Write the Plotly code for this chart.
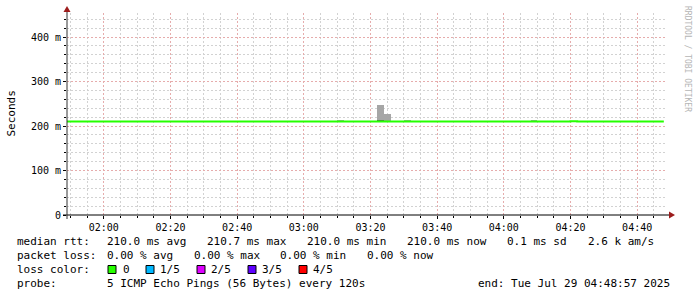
import plotly.graph_objects as go

# ---------------- data ----------------
DAY = "2025-07-29 "
range_start = "01:48:57"
range_end = "04:48:57"

# median RTT (ms), step series: each value holds until the next time
median_times = ["01:48:00", "04:20:00", "04:22:00", "04:48:00"]
median_ms = [210.0, 210.7, 210.0, 210.0]

# smoke (spread of the pings) per 2-minute step, centre times
smoke_times = ["03:11:00", "03:23:00", "03:25:00", "03:31:00", "04:09:00"]
smoke_low = [210, 210, 210, 210, 210]
smoke_high = [213.5, 247, 227, 213.5, 213.5]

# denser smoke band next to the median
dense_times = ["03:23:00"]
dense_low = [210]
dense_high = [213.5]

y_tickvals = [0, 100, 200, 300, 400]
y_ticktext = ["0", "100 m", "200 m", "300 m", "400 m"]
x_tickvals = ["02:00", "02:20", "02:40", "03:00", "03:20", "03:40", "04:00", "04:20", "04:40"]

rtt_row = ["median rtt:", "210.0 ms avg", "210.7 ms max", "210.0 ms min",
           "210.0 ms now", "0.1 ms sd", "2.6 k am/s"]
loss_row = ["packet loss:", "0.00 % avg", "0.00 % max", "0.00 % min", "0.00 % now"]
loss_labels = ["0", "1/5", "2/5", "3/5", "4/5"]
loss_colors = ["#26ff00", "#00b8ff", "#dd00ff", "#5e00ff", "#ff0000"]
probe_row = ["probe:", "5 ICMP Echo Pings (56 Bytes) every 120s"]
end_text = "end: Tue Jul 29 04:48:57 2025"
y_title = "Seconds"
watermark = "RRDTOOL / TOBI OETIKER"

# ---------------- layout geometry (pixels) ----------------
W, H = 697, 297
L, R, T, B = 67, 30, 13, 82
PW, PH = W - L - R, H - T - B
Y0 = H - B  # pixel row of the x axis


def px(x):
    return (x - L) / PW


def py(y):
    return (Y0 - y) / PH


MONO = "DejaVu Sans Mono"
GRID = "#d2d2d2"
MGRID = "#e6acac"
ARROW = "#9c1c1c"

fig = go.Figure()

fig.add_trace(go.Bar(
    x=[DAY + t for t in smoke_times],
    y=[h - l for h, l in zip(smoke_high, smoke_low)],
    base=smoke_low,
    width=120000,
    marker=dict(color="#a6a6a6", line=dict(width=0)),
    showlegend=False, hoverinfo="skip",
))
fig.add_trace(go.Bar(
    x=[DAY + t for t in dense_times],
    y=[h - l for h, l in zip(dense_high, dense_low)],
    base=dense_low,
    width=120000,
    marker=dict(color="#5a5a5a", line=dict(width=0)),
    showlegend=False, hoverinfo="skip",
))
fig.add_trace(go.Scatter(
    x=[DAY + t for t in median_times],
    y=median_ms,
    mode="lines",
    line=dict(color=loss_colors[0], width=2, shape="hv"),
    showlegend=False, hoverinfo="skip",
))

fig.update_layout(
    width=W, height=H,
    margin=dict(l=L, r=R, t=T, b=B, pad=0),
    paper_bgcolor="white", plot_bgcolor="white",
    barmode="overlay", bargap=0,
    hovermode=False,
    font=dict(family=MONO, size=10, color="black"),
    xaxis=dict(
        type="date",
        range=[DAY + range_start, DAY + range_end],
        tickmode="array",
        tickvals=[DAY + t for t in x_tickvals],
        ticktext=x_tickvals,
        showgrid=True, gridcolor=MGRID, griddash="2px,2px", gridwidth=1,
        minor=dict(dtick=300000, tick0=DAY + "00:00:00", showgrid=True,
                   gridcolor=GRID, griddash="2px,2px", gridwidth=1,
                   ticks="outside", ticklen=2, tickcolor="black"),
        ticks="outside", ticklen=3, tickcolor="black",
        zeroline=False, showline=False,
        tickfont=dict(family=MONO, size=10, color="black"),
        fixedrange=True,
    ),
    yaxis=dict(
        range=[0, 454],
        tickmode="array",
        tickvals=y_tickvals,
        ticktext=y_ticktext,
        showgrid=True, gridcolor=MGRID, griddash="2px,2px", gridwidth=1,
        minor=dict(dtick=20, tick0=0, showgrid=True,
                   gridcolor=GRID, griddash="2px,2px", gridwidth=1,
                   ticks="outside", ticklen=2, tickcolor="black"),
        ticks="outside", ticklen=3, tickcolor="black",
        zeroline=False, showline=False,
        tickfont=dict(family=MONO, size=10, color="black"),
        fixedrange=True,
    ),
)

shapes = []
# x axis line + arrow
shapes.append(dict(type="line", xref="paper", yref="paper",
                   x0=px(63), x1=px(670), y0=0, y1=0,
                   line=dict(color="black", width=1)))
shapes.append(dict(type="path", xref="paper", yref="paper",
                   path=f"M {px(669)} {py(211.5)} L {px(675)} {py(215)} L {px(669)} {py(218.5)} Z",
                   fillcolor=ARROW, line=dict(color=ARROW, width=0)))
# y axis line + arrow
shapes.append(dict(type="line", xref="paper", yref="paper",
                   x0=0, x1=0, y0=py(219), y1=py(11),
                   line=dict(color="#333333", width=1)))
shapes.append(dict(type="path", xref="paper", yref="paper",
                   path=f"M {px(63.5)} {py(12)} L {px(67)} {py(6)} L {px(70.5)} {py(12)} Z",
                   fillcolor=ARROW, line=dict(color=ARROW, width=0)))

annotations = []


def text(x, y, s, size=11, anchor="left", color="black", angle=0):
    annotations.append(dict(
        x=px(x), y=py(y), xref="paper", yref="paper", text=s, showarrow=False,
        xanchor=anchor, yanchor="middle", textangle=angle,
        borderpad=0, borderwidth=0,
        font=dict(family=MONO, size=size, color=color)))


rtt_x = [16.7, 107.3, 207.3, 307.3, 407.3, 507.3, 587.5]
for s, x in zip(rtt_row, rtt_x):
    text(x, 241, s)
loss_x = [16.7, 107.3, 193.8, 280.3, 366.8]
for s, x in zip(loss_row, loss_x):
    text(x, 255, s)
text(16.7, 269, "loss color:")
box_x = [108, 146, 197, 248, 299]
label_x = [123.3, 160, 211.3, 262.3, 313.3]
for lab, col, bx, lx in zip(loss_labels, loss_colors, box_x, label_x):
    shapes.append(dict(type="rect", xref="paper", yref="paper",
                       x0=px(bx), x1=px(bx + 8), y0=py(273.5), y1=py(265.5),
                       fillcolor=col, line=dict(color="black", width=1)))
    text(lx, 269, lab)
text(16.7, 283, probe_row[0])
text(107.3, 283, probe_row[1])
text(478, 283, end_text)

# axis title and watermark
annotations.append(dict(
    x=px(10.5), y=py(114), xref="paper", yref="paper", text=y_title,
    showarrow=False, xanchor="center", yanchor="middle", textangle=-90,
    font=dict(family=MONO, size=11, color="black")))
annotations.append(dict(
    x=px(687), y=py(59), xref="paper", yref="paper", text=watermark,
    showarrow=False, xanchor="center", yanchor="middle", textangle=90,
    font=dict(family=MONO, size=8, color="#b5b5b5")))

fig.update_layout(shapes=shapes, annotations=annotations)

fig.write_html("out.html", config={"displayModeBar": False, "staticPlot": True})
